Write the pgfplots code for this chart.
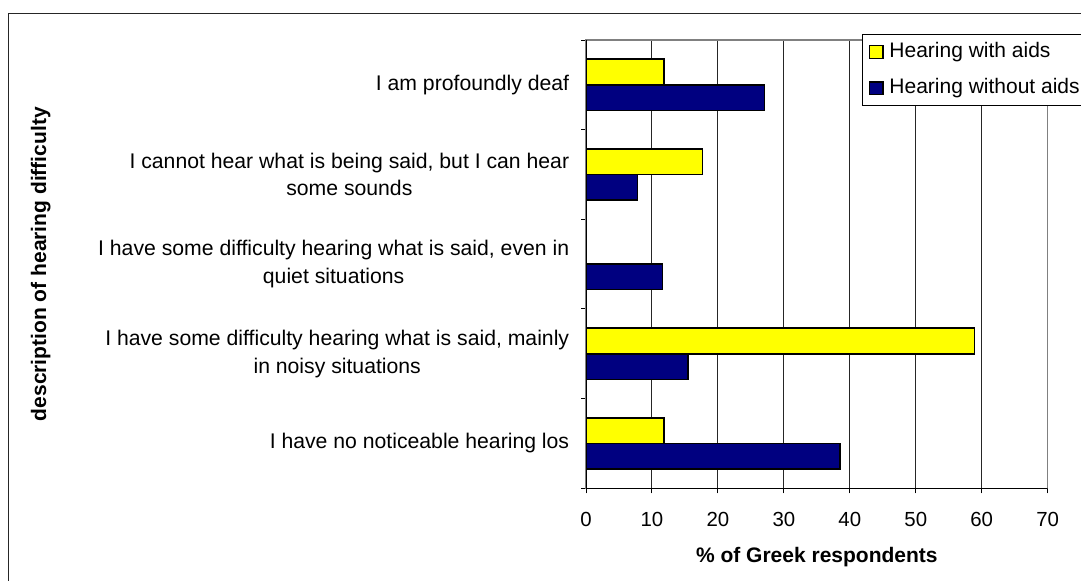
\documentclass[border=0pt]{standalone}
\usepackage{fontspec}
\setmainfont{Liberation Sans}
\usepackage{pgfplots}
\pgfplotsset{compat=1.18}
\definecolor{aidyellow}{HTML}{FFFF00}
\definecolor{aidnavy}{HTML}{000080}
\definecolor{framegray}{HTML}{808080}

\begin{document}
\begin{tikzpicture}
\clip (0,0) rectangle (540.5bp,-290.5bp);
% chart area frame
\draw[line width=0.6bp, black!85] (4.2bp,-300bp) -- (4.2bp,-6.65bp) -- (560bp,-6.65bp);
\begin{axis}[
  at={(293bp,-20bp)}, anchor=north west,
  scale only axis, width=230.85bp, height=224.15bp,
  xbar, bar width=12.8bp,
  xmin=0, xmax=70, xtick={0,10,...,70},
  ymin=-0.5, ymax=4.5,
  ytick={-0.5,0.5,...,4.5}, yticklabels={},
  extra y ticks={0,1,2,3,4},
  extra y tick labels={
    {I have no noticeable hearing los},
    {I have some difficulty hearing what is said, mainly\\in noisy situations},
    {I have some difficulty hearing what is said, even in\\quiet situations},
    {I cannot hear what is being said, but I can hear\\some sounds},
    {I am profoundly deaf}},
  extra y tick style={major tick length=0pt,
    yticklabel style={align=center, font=\fontsize{10.6bp}{13.85bp}\selectfont, xshift=-4.9bp}},
  xtick pos=left, ytick pos=left,
  tick align=outside,
  major tick length=2.5bp,
  tick style={black, line width=0.5bp},
  xmajorgrids,
  major grid style={black!85, line width=0.5bp},
  axis line style={framegray, line width=0.7bp},
  /pgf/number format/assume math mode=true,
  xticklabel style={font=\fontsize{10.2bp}{12bp}\selectfont, yshift=-5.8bp},
  xlabel={\% of Greek respondents},
  xlabel style={at={(axis description cs:0.5,-0.165)}, anchor=base,
    font=\bfseries\fontsize{10.5bp}{12bp}\selectfont},
  ylabel={description of hearing difficulty},
  ylabel style={at={(axis description cs:-1.1696,0.5)}, anchor=base,
    font=\bfseries\fontsize{10.5bp}{12bp}\selectfont},
  legend cell align=left,
  legend style={at={(axis description cs:0.5978,1.0134)}, anchor=north west,
    draw=black, line width=0.5bp, fill=white,
    font=\fontsize{10.5bp}{12bp}\selectfont,
    inner xsep=3.2bp, inner ysep=3.3bp, row sep=7.35bp,
    nodes={inner sep=0.5bp, text height=7.6bp, text depth=2.2bp}},
]
\addplot[fill=aidyellow, draw=black, line width=0.75bp, bar shift=6.4bp,
  legend image code/.code={%
    \draw[fill=aidyellow, draw=black, line width=0.75bp] (0bp,-3.2bp) rectangle (6.6bp,3.2bp);
    \path[draw=none, fill=none] (0bp,0bp) -- (9.4bp,0bp);}]
  coordinates {(11.8,0) (58.9,1) (0,2) (17.7,3) (11.8,4)};
\addlegendentry{Hearing with aids}
\addplot[fill=aidnavy, draw=black, line width=0.75bp, bar shift=-6.4bp,
  legend image code/.code={%
    \draw[fill=aidnavy, draw=black, line width=0.75bp] (0bp,-3.2bp) rectangle (6.6bp,3.2bp);
    \path[draw=none, fill=none] (0bp,0bp) -- (9.4bp,0bp);}]
  coordinates {(38.5,0) (15.5,1) (11.6,2) (7.8,3) (27.1,4)};
\addlegendentry{Hearing without aids}
% black value and category axes over the grey plot-area border
\draw[black, line width=0.7bp] (rel axis cs:0,1) -- (rel axis cs:0,0) -- (rel axis cs:1,0);
\end{axis}
\end{tikzpicture}
\end{document}
